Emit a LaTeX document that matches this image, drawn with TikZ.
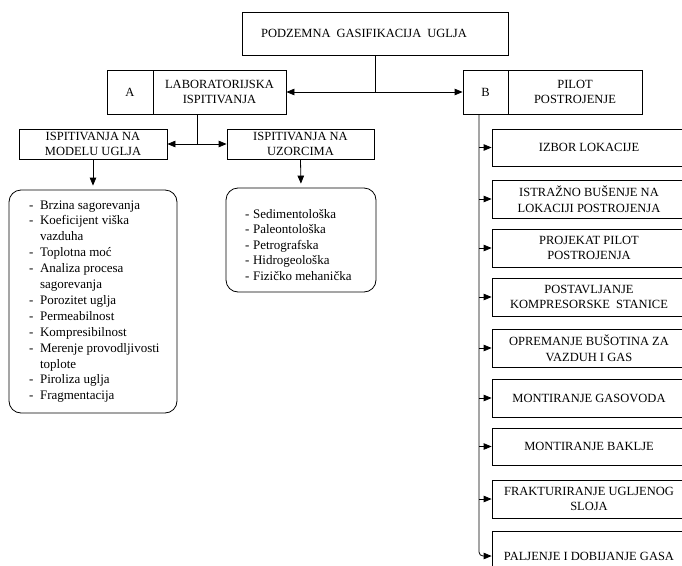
\documentclass[tikz,border=0pt]{standalone}
\usepackage{fontspec}
\setmainfont{Liberation Serif}
\usetikzlibrary{arrows.meta}
\newcommand\diafs{\fontsize{12.5}{15.5}\selectfont}
\newcommand\mlfs{\fontsize{13}{15.9}\selectfont}
\newcommand\slfs{\fontsize{13}{15.5}\selectfont}
\begin{document}
\begin{tikzpicture}[x=1pt,y=-1pt,
  box/.style={draw, line width=0.8pt, inner sep=0pt, align=center, font=\diafs},
  lbox/.style={draw, line width=0.8pt, rounded corners=12pt, inner sep=0pt},
  conn/.style={draw, line width=0.8pt},
  arr/.style={conn, -{Triangle[length=8pt,width=6.5pt]}},
  darr/.style={conn, {Triangle[length=8pt,width=6.5pt]}-{Triangle[length=8pt,width=6.5pt]}}
]
\useasboundingbox (0,0) rectangle (682,565);
\fill[white] (0,0) rectangle (682,565);
\clip (0,0) rectangle (682,565);

% title
\node[box, minimum width=266, minimum height=43] (title) at (375,33.5)
  {PODZEMNA\hspace{6pt}GASIFIKACIJA\hspace{6pt}UGLJA\hspace*{22pt}};

% A
\node[box, minimum width=46, minimum height=44] (Alet) at (130,92) {A};
\node[box, minimum width=133, minimum height=44] (Alab) at (219.5,92) {LABORATORIJSKA\\ISPITIVANJA};
% B
\node[box, minimum width=45, minimum height=44] (Blet) at (485.5,92) {B};
\node[box, minimum width=134, minimum height=44] (Bpil) at (575,92) {PILOT\\POSTROJENJE};

% second level
\node[box, minimum width=148, minimum height=30] (model) at (93,144) {ISPITIVANJA NA\\MODELU UGLJA};
\node[box, minimum width=147, minimum height=30] (uzor) at (300.5,144) {ISPITIVANJA NA\\UZORCIMA};

% lists
\node[lbox, minimum width=168, minimum height=223] (mlist) at (93,301.5) {};
\node[lbox, minimum width=150, minimum height=104] (slist) at (301,240) {};

\node[anchor=base west, inner sep=0pt, font=\mlfs] (mtxt) at (29,209)
 {\begin{tabular}[t]{@{}l@{\hspace{6.5pt}}l@{}}
 -&Brzina sagorevanja\\
 -&Koeficijent viška\\
  &vazduha\\
 -&Toplotna moć\\
 -&Analiza procesa\\
  &sagorevanja\\
 -&Porozitet uglja\\
 -&Permeabilnost\\
 -&Kompresibilnost\\
 -&Merenje provodljivosti\\
  &toplote\\
 -&Piroliza uglja\\
 -&Fragmentacija
 \end{tabular}};

\node[anchor=base west, inner sep=0pt, font=\slfs] (stxt) at (245,218)
 {\begin{tabular}[t]{@{}l@{\hspace{3.5pt}}l@{}}
 -&Sedimentološka\\
 -&Paleontološka\\
 -&Petrografska\\
 -&Hidrogeološka\\
 -&Fizičko mehanička
 \end{tabular}};

% right column
\node[box, minimum width=194, minimum height=37] (r1) at (589,147.5) {IZBOR LOKACIJE};
\node[box, minimum width=194, minimum height=38] (r2) at (589,199) {ISTRAŽNO BUŠENJE NA\\LOKACIJI POSTROJENJA};
\node[box, minimum width=194, minimum height=38] (r3) at (589,248) {PROJEKAT PILOT\\POSTROJENJA};
\node[box, minimum width=194, minimum height=38] (r4) at (589,297) {POSTAVLJANJE\\KOMPRESORSKE\hspace{6pt}STANICE};
\node[box, minimum width=194, minimum height=38] (r5) at (589,348) {OPREMANJE BUŠOTINA ZA\\VAZDUH I GAS};
\node[box, minimum width=194, minimum height=38] (r6) at (589,398) {MONTIRANJE GASOVODA};
\node[box, minimum width=194, minimum height=37] (r7) at (589,446.5) {MONTIRANJE BAKLJE};
\node[box, minimum width=194, minimum height=38] (r8) at (589,499) {FRAKTURIRANJE UGLJENOG\\SLOJA};
\node[box, minimum width=194, minimum height=50] (r9) at (589,556) {PALJENJE I DOBIJANJE GASA};

% connectors
\draw[conn] (title.south) -- (title.south |- Alab.east);
\draw[darr] (Alab.east) -- (Blet.west);

\coordinate (Ad) at (197,144);
\draw[conn] (Alab.south -| Ad) -- (Ad);
\draw[arr] (Ad) -- (model.east);
\draw[arr] (Ad) -- (uzor.west);

\draw[arr, shorten >=4pt] (model.south) -- (mlist.north);
\draw[arr, shorten >=4pt] (uzor.south) -- (slist.north);

\coordinate (Bx) at (479,0);
\foreach \i in {1,...,8}{
  \draw[arr] (Bx |- r\i.west) -- (r\i.west);
}
\draw[arr, rounded corners=4pt] (Blet.south -| Bx) -- (Bx |- r9.west) -- (r9.west);
\end{tikzpicture}
\end{document}
